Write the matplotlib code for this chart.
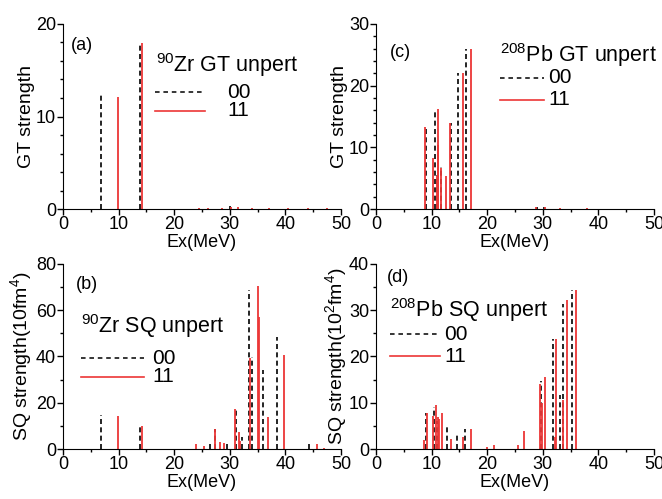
import numpy as np
import matplotlib
matplotlib.use('Agg')
import matplotlib.pyplot as plt
from matplotlib.ticker import MultipleLocator

plt.rcParams['font.family'] = ['Liberation Sans', 'DejaVu Sans']
plt.rcParams['mathtext.fontset'] = 'custom'
plt.rcParams['mathtext.rm'] = 'Liberation Sans'
plt.rcParams['mathtext.it'] = 'Liberation Sans'
plt.rcParams['font.size'] = 12

RED = '#ec3636'

# (a) 90Zr GT
zr_gt_00_ex = [6.8, 13.9, 30.0]
zr_gt_00_s = [12.3, 17.9, 0.3]
zr_gt_11_ex = [9.9, 14.2, 24.5, 26.0, 28.5, 30.2, 31.5, 34.0, 37.0, 40.5, 44.0, 47.5]
zr_gt_11_s = [12.1, 17.9, 0.15, 0.15, 0.15, 0.2, 0.2, 0.15, 0.15, 0.15, 0.15, 0.15]

# (c) 208Pb GT
pb_gt_00_ex = [9.0, 10.6, 11.0, 11.6, 13.5, 14.7, 16.1, 29.0, 30.2]
pb_gt_00_s = [13.3, 16.2, 5.5, 6.9, 13.9, 22.0, 25.9, 0.3, 0.4]
pb_gt_11_ex = [8.8, 10.2, 10.9, 11.1, 11.2, 11.7, 12.5, 13.3, 15.6, 17.1, 28.8, 30.3, 33.0, 38.0]
pb_gt_11_s = [13.3, 8.2, 5.4, 10.4, 16.2, 6.6, 5.4, 13.9, 22.0, 25.9, 0.3, 0.4, 0.1, 0.1]

# (b) 90Zr SQ
zr_sq_00_ex = [6.8, 13.85, 26.4, 27.3, 29.4, 31.1, 32.1, 33.5, 33.9, 35.9, 38.4, 44.3]
zr_sq_00_s = [14.8, 10.4, 3.5, 8.6, 2.7, 16.9, 5.3, 68.8, 39.6, 34.2, 48.6, 3.2]
zr_sq_11_ex = [9.95, 14.15, 24.0, 25.4, 27.3, 28.2, 29.0, 30.9, 31.6, 31.8, 33.6, 35.0,
               35.25, 36.9, 39.75, 45.6, 47.0]
zr_sq_11_s = [14.4, 9.9, 2.0, 1.5, 8.8, 2.9, 2.6, 17.2, 7.5, 3.5, 39.2, 70.5,
              56.9, 13.7, 40.8, 2.3, 0.5]

# (d) 208Pb SQ
pb_sq_00_ex = [8.9, 10.5, 11.0, 12.7, 14.6, 16.0, 29.7, 31.9, 33.0, 33.6, 35.2]
pb_sq_00_s = [7.85, 9.15, 6.0, 5.0, 3.0, 4.25, 14.8, 23.7, 11.7, 31.35, 34.4]
pb_sq_11_ex = [8.7, 9.1, 10.2, 10.8, 11.2, 11.4, 11.9, 13.4, 15.6, 17.0, 20.0, 21.3,
               25.5, 26.7, 29.4, 29.8, 30.4, 32.1, 32.4, 33.7, 34.3, 36.0]
pb_sq_11_s = [2.0, 7.85, 7.1, 9.4, 7.0, 6.5, 7.7, 2.1, 2.7, 4.25, 0.5, 0.9,
              0.8, 3.8, 14.0, 10.0, 15.5, 2.5, 23.8, 10.6, 32.2, 34.4]


def style_axis(ax, ymax, ymaj, ymin):
    ax.set_xlim(0, 50)
    ax.set_ylim(0, ymax)
    ax.spines['top'].set_visible(False)
    ax.spines['right'].set_visible(False)
    ax.xaxis.set_major_locator(MultipleLocator(10))
    ax.xaxis.set_minor_locator(MultipleLocator(5))
    ax.yaxis.set_major_locator(MultipleLocator(ymaj))
    ax.yaxis.set_minor_locator(MultipleLocator(ymin))
    ax.tick_params(which='major', direction='out', length=4, width=1, labelsize=13, pad=1)
    ax.tick_params(which='minor', direction='out', length=2, width=1)
    ax.set_xlabel('Ex(MeV)', fontsize=13, labelpad=1)


def draw_key(ax, title, xt, yt, y0, y1, xl0, xl1, xtxt):
    ax.text(xt, yt, title, transform=ax.transAxes, fontsize=15.5, va='center', ha='left')
    ax.plot([xl0, xl1], [y0, y0], transform=ax.transAxes, color='k', ls=(0, (3, 2.5)), lw=1.1)
    ax.plot([xl0, xl1], [y1, y1], transform=ax.transAxes, color=RED, lw=1.2)
    ax.text(xtxt, y0, '00', transform=ax.transAxes, fontsize=15, va='center')
    ax.text(xtxt, y1, '11', transform=ax.transAxes, fontsize=15, va='center')


def spikes(ax, ex00, s00, ex11, s11):
    ax.vlines(ex00, 0, s00, colors='k', linestyles=(0, (3, 2)), lw=1.2)
    ax.vlines(ex11, 0, s11, colors=RED, lw=1.3)


fig = plt.figure(figsize=(6.62, 4.99), dpi=100)
ax_a = fig.add_axes([0.0952, 0.581, 0.42, 0.371])
ax_c = fig.add_axes([0.568, 0.581, 0.42, 0.371])
ax_b = fig.add_axes([0.0952, 0.1002, 0.42, 0.371])
ax_d = fig.add_axes([0.568, 0.1002, 0.42, 0.371])

spikes(ax_a, zr_gt_00_ex, zr_gt_00_s, zr_gt_11_ex, zr_gt_11_s)
style_axis(ax_a, 20, 10, 2)
ax_a.set_ylabel('GT strength', fontsize=14, labelpad=1)
ax_a.text(0.03, 0.86, '(a)', transform=ax_a.transAxes, fontsize=13)
draw_key(ax_a, '$^{90}$Zr GT unpert', 0.335, 0.78, 0.63, 0.53, 0.33, 0.51, 0.59)

spikes(ax_c, pb_gt_00_ex, pb_gt_00_s, pb_gt_11_ex, pb_gt_11_s)
style_axis(ax_c, 30, 10, 2)
ax_c.set_ylabel('GT strength', fontsize=14, labelpad=1)
ax_c.text(0.05, 0.82, '(c)', transform=ax_c.transAxes, fontsize=13)
draw_key(ax_c, '$^{208}$Pb GT unpert', 0.445, 0.83, 0.71, 0.59, 0.445, 0.605, 0.62)

spikes(ax_b, zr_sq_00_ex, zr_sq_00_s, zr_sq_11_ex, zr_sq_11_s)
style_axis(ax_b, 80, 20, 10)
ax_b.set_ylabel('SQ strength(10fm$^4$)', fontsize=14, labelpad=1)
ax_b.text(0.045, 0.865, '(b)', transform=ax_b.transAxes, fontsize=13)
draw_key(ax_b, '$^{90}$Zr SQ unpert', 0.065, 0.665, 0.49, 0.39, 0.065, 0.29, 0.32)

spikes(ax_d, pb_sq_00_ex, pb_sq_00_s, pb_sq_11_ex, pb_sq_11_s)
style_axis(ax_d, 40, 10, 5)
ax_d.set_ylabel('SQ strength(10$^2$fm$^4$)', fontsize=14, labelpad=0)
ax_d.text(0.04, 0.9, '(d)', transform=ax_d.transAxes, fontsize=13)
draw_key(ax_d, '$^{208}$Pb SQ unpert', 0.05, 0.75, 0.62, 0.50, 0.05, 0.23, 0.245)

fig.savefig('out.png', dpi=100)
